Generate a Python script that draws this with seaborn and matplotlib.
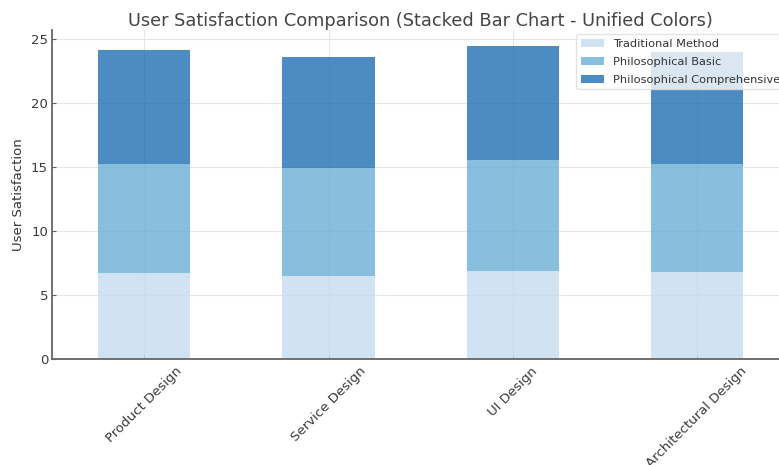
import matplotlib
matplotlib.use("Agg")
import matplotlib.pyplot as plt
import numpy as np
import pandas as pd
import seaborn as sns

categories = ["Product Design", "Service Design", "UI Design", "Architectural Design"]
traditional = [6.7, 6.5, 6.9, 6.8]
philosophical_basic = [8.5, 8.4, 8.6, 8.4]
philosophical_comprehensive = [8.9, 8.65, 8.95, 8.8]
series_names = ["Traditional Method", "Philosophical Basic", "Philosophical Comprehensive"]

sns.set_theme(style="whitegrid")
plt.rcParams["font.family"] = ["DejaVu Sans"]

colors = sns.color_palette("Blues", 3)

df = pd.DataFrame({
    "Category": categories,
    series_names[0]: traditional,
    series_names[1]: philosophical_basic,
    series_names[2]: philosophical_comprehensive,
})

fig = plt.figure(figsize=(7.79, 4.65), dpi=100)
ax = fig.add_axes([0.067, 0.228, 0.946, 0.708])

bottom = np.zeros(len(categories))
for name, color in zip(series_names, colors):
    sns.barplot(data=df, x="Category", y=name, color=color, alpha=0.8,
                width=0.5, bottom=bottom, label=name, ax=ax,
                saturation=1, edgecolor="none")
    bottom = bottom + df[name].to_numpy()

ax.set_title("User Satisfaction Comparison (Stacked Bar Chart - Unified Colors)",
             fontsize=12.8, color="#444444", pad=3)
ax.set_ylabel("User Satisfaction", fontsize=9.5, color="#333333")
ax.set_xlabel("")
ax.set_xlim(-0.5, 3.5)
ax.set_ylim(0, 25.7)
ax.set_yticks([0, 5, 10, 15, 20, 25])
plt.setp(ax.get_xticklabels(), rotation=45, ha="center")
ax.tick_params(axis="both", labelsize=9.5, labelcolor="#3a3a3a",
               length=3, width=0.8, color="#666666", direction="in")
ax.tick_params(axis="x", pad=4, bottom=True)
ax.tick_params(axis="y", pad=3, left=True)

ax.grid(True, color="#e6e6e6", linewidth=0.8)
ax.set_axisbelow(True)
for side in ["top", "right"]:
    ax.spines[side].set_visible(False)
for side in ["left", "bottom"]:
    ax.spines[side].set_color("#666666")
    ax.spines[side].set_linewidth(1.3)

leg = ax.legend(loc="upper right", fontsize=8.2, frameon=True, framealpha=0.8,
                edgecolor="#dddddd", fancybox=True, borderaxespad=0.4,
                labelspacing=0.7)
for t in leg.get_texts():
    t.set_color("#333333")

fig.savefig("out.png", dpi=100)
